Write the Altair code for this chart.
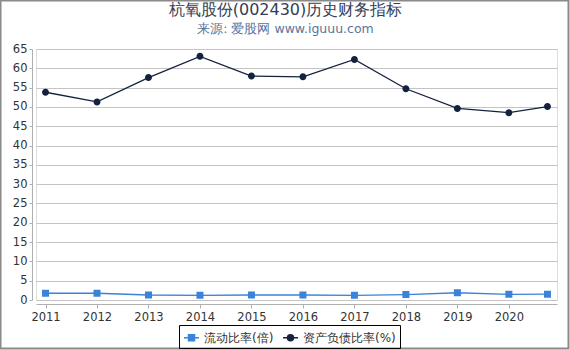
import altair as alt
import pandas as pd

years = [2011, 2012, 2013, 2014, 2015, 2016, 2017, 2018, 2019, 2020, 2020.75]
current_ratio = [1.75, 1.75, 1.3, 1.2, 1.3, 1.3, 1.2, 1.4, 1.88, 1.48, 1.5]
debt_ratio = [53.8, 51.3, 57.6, 63.1, 58.0, 57.8, 62.3, 54.7, 49.6, 48.5, 50.1]
series_names = ["流动比率(倍)", "资产负债比率(%)"]
series_colors = ["#3b82d9", "#14233d"]
x_ticks = [2011, 2012, 2013, 2014, 2015, 2016, 2017, 2018, 2019, 2020]
y_ticks = [0, 5, 10, 15, 20, 25, 30, 35, 40, 45, 50, 55, 60, 65]

rows = []
for y, a, b in zip(years, current_ratio, debt_ratio):
    rows.append({"year": y, "series": series_names[0], "value": a})
    rows.append({"year": y, "series": series_names[1], "value": b})
df = pd.DataFrame(rows)

FONT = "DejaVu Sans"
PL, PT, PW, PH = 36, 49, 521, 251

square_path = "M-1,0H1M-0.4,-0.4H0.4V0.4H-0.4Z"
circle_path = "M-1,0H1M0.4,0A0.4,0.4,0,1,1,-0.4,0A0.4,0.4,0,1,1,0.4,0Z"

legend = alt.Legend(
    title=None, orient="none", legendX=143, legendY=276, direction="horizontal",
    strokeColor="#000000", padding=4, columnPadding=6,
    labelFont=FONT, labelFontSize=12, labelColor="#333333",
    symbolSize=225, symbolStrokeWidth=1.5, labelOffset=4,
)

x = alt.X("year:Q",
          scale=alt.Scale(domain=[2010.815, 2020.935], nice=False, zero=False),
          axis=alt.Axis(values=x_ticks, format="d", title=None, grid=False,
                        offset=4, tickSize=4, tickColor="#b0b0b0", domainColor="#b0b0b0",
                        labelFont=FONT, labelFontSize=11.5, labelColor="#333333",
                        labelPadding=3))
y = alt.Y("value:Q",
          scale=alt.Scale(domain=[0, 65], nice=False),
          axis=alt.Axis(values=y_ticks, title=None, grid=True, gridColor="#c4c4c4",
                        offset=4, tickSize=3, tickColor="#b0b0b0", domainColor="#b0b0b0",
                        labelFont=FONT, labelFontSize=11.5, labelColor="#333333",
                        labelPadding=2))

base = alt.Chart(df)

lines = base.mark_line(strokeWidth=1.3).encode(
    x=x, y=y,
    stroke=alt.Stroke("series:N", scale=alt.Scale(domain=series_names, range=series_colors),
                      legend=legend),
    detail="series:N",
)

points = base.mark_point(filled=True, size=306, opacity=1).encode(
    x=x, y=y,
    fill=alt.Fill("series:N", scale=alt.Scale(domain=series_names, range=series_colors),
                  legend=legend),
    shape=alt.Shape("series:N", scale=alt.Scale(domain=series_names,
                                                range=[square_path, circle_path]),
                    legend=legend),
)

frame = alt.Chart(pd.DataFrame({"k": [0]})).mark_rect(
    fill=None, stroke="#8a8a8a", strokeWidth=2
).encode(
    x=alt.value(0.5 - PL), x2=alt.value(568.5 - PL),
    y=alt.value(0.5 - PT), y2=alt.value(348.5 - PT),
)

chart = alt.layer(lines, points, frame).properties(
    width=PW, height=PH,
    autosize=alt.AutoSizeParams(type="none"),
    padding={"left": PL, "top": PT, "right": 570 - PL - PW, "bottom": 350 - PT - PH},
    title=alt.TitleParams(
        text="杭氧股份(002430)历史财务指标",
        subtitle="来源: 爱股网 www.iguuu.com",
        anchor="middle", frame="group", dx=-11, offset=-35.5,
        font=FONT, fontSize=16, fontWeight="normal", color="#333d58",
        subtitleFont=FONT, subtitleFontSize=12.5, subtitleColor="#5b7399",
        subtitlePadding=5,
    ),
).configure_view(stroke=None).configure(background="white")

chart.save("out.html", embed_options={"renderer": "svg", "actions": False})
